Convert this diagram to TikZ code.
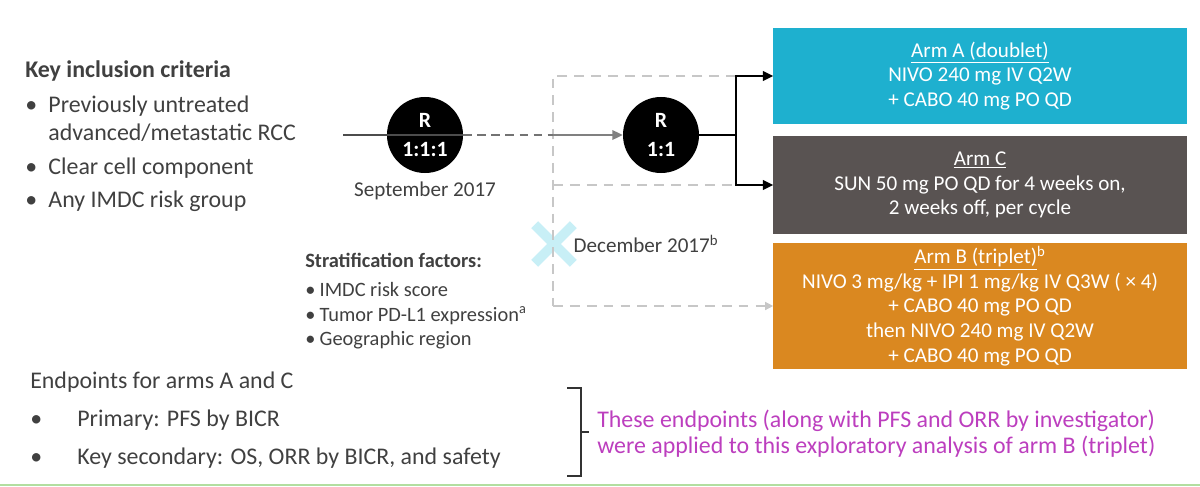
\documentclass[tikz,border=0pt]{standalone}
\usepackage{fontspec}
\setmainfont{Carlito}
\usepackage{xcolor}
\usetikzlibrary{arrows.meta,positioning,shapes.misc}
\definecolor{armcyan}{RGB}{30,176,207}
\definecolor{armgray}{RGB}{89,83,82}
\definecolor{armorange}{RGB}{218,136,32}
\definecolor{txtgray}{RGB}{64,64,64}
\definecolor{notemag}{RGB}{188,62,190}
\definecolor{xcyan}{RGB}{200,239,246}
\definecolor{rulegreen}{RGB}{178,222,160}

\begin{document}
\begin{tikzpicture}[x=0.025cm, y=-0.025cm,
  txt/.style={text=txtgray, align=left, inner sep=0pt},
  rnd/.style={circle, fill=black, text=white, minimum size=1.9cm, inner sep=0pt, align=center, font=\fontsize{15.5}{21}\selectfont\bfseries},
  arm/.style={minimum width=10.325cm, inner sep=0pt, align=center, text=white, font=\fontsize{15}{17.5}\selectfont},
  arr/.style={-{Triangle[length=2.6mm,width=2.4mm]}, line width=1.5pt},
  garr/.style={-{Triangle[length=2.6mm,width=2.4mm]}, line width=1.3pt, black!50},
  dashln/.style={draw=black!22, dashed, dash pattern=on 7pt off 5pt, line width=1pt},
  bracket/.style={draw=black!80, line width=1.1pt}
]
  \useasboundingbox (0,0) rectangle (1200,486);

  % inclusion criteria
  \node[txt, anchor=north west, font=\fontsize{17}{20}\selectfont] (incl) at (25,60) {\textbf{Key inclusion criteria}\\[5pt]
    \begin{tabular}[t]{@{}l@{\hspace{8pt}}l@{}}
      \textbullet & Previously untreated\\
                  & advanced/metastatic RCC\\[4pt]
      \textbullet & Clear cell component\\[4pt]
      \textbullet & Any IMDC risk group
    \end{tabular}};

  % randomisations
  \coordinate (in) at (343,135);
  \coordinate (split) at (553,135);
  \coordinate (fork) at (736,135);
  \node[rnd] (rand1) at (425,135) {R\\1:1:1};
  \node[rnd] (rand2) at (661,135) {R\\1:1};
  \node[txt, below=0.2cm of rand1, font=\fontsize{15}{17}\selectfont] (sept) {September 2017};

  % arms
  \node[arm, fill=armcyan, minimum height=2.4cm] (armA) at (980,76) {\underline{Arm A (doublet)}\\NIVO 240 mg IV Q2W\\+ CABO 40 mg PO QD};
  \node[arm, fill=armgray, minimum height=2.43cm] (armC) at (980,185) {\underline{Arm C}\\SUN 50 mg PO QD for 4 weeks on,\\2 weeks off, per cycle};
  \node[arm, fill=armorange, minimum height=3.15cm] (armB) at (980,306) {\underline{Arm B (triplet)}\textsuperscript{b}\\NIVO 3 mg/kg + IPI 1 mg/kg IV Q3W ( × 4)\\+ CABO 40 mg PO QD\\then NIVO 240 mg IV Q2W\\+ CABO 40 mg PO QD};

  % december closure of arm B
  \node[cross out, draw=xcyan, line width=7pt, minimum size=0.72cm] (xmk) at (554,244) {};
  \node[txt, right=0.0cm of xmk, font=\fontsize{15}{17}\selectfont] (dec) {December 2017\textsuperscript{b}};

  \draw[dashln] (fork |- armA.west) -| (split |- armB.west);
  \draw[dashln, -{Triangle[length=2mm,width=2mm]}] (split |- armB.west) -- (armB.west);
  \draw[dashln] (split |- armC.west) -- (fork |- armC.west);

  \draw[black!70, line width=1.5pt] (in) -- (rand1.east);
  \draw[black!55, line width=1.5pt, dashed, dash pattern=on 6pt off 4pt] (rand1.east) -- (split);
  \draw[garr] (split) -- (rand2);
  \draw[line width=1.5pt] (rand2) -- (fork);
  \draw[arr] (fork) |- (armA.west);
  \draw[arr] (fork) |- (armC.west);

  % stratification
  \node[txt, anchor=north west, font=\fontsize{14.5}{17.5}\selectfont] (strat) at (305,253) {\textbf{Stratification factors:}\\[3pt]
    \begin{tabular}[t]{@{}l@{\hspace{3pt}}l@{}}
      \textbullet & IMDC risk score\\
      \textbullet & Tumor PD-L1 expression\textsuperscript{a}\\
      \textbullet & Geographic region
    \end{tabular}};

  % endpoints
  \node[txt, anchor=north west, font=\fontsize{17}{27}\selectfont] (endpts) at (30,372) {Endpoints for arms A and C\\
    \begin{tabular}[t]{@{}l@{\hspace{25pt}}l@{}}
      \textbullet & Primary: PFS by BICR\\
      \textbullet & Key secondary: OS, ORR by BICR, and safety
    \end{tabular}};
  \draw[bracket] (567,388) -- (581,388) -- (581,476) -- (567,476) (581,432) -- (589,432);
  \node[txt, text=notemag, anchor=west, font=\fontsize{17}{18.5}\selectfont] (note) at (597,434) {These endpoints (along with PFS and ORR by investigator)\\were applied to this exploratory analysis of arm B (triplet)};

  \draw[rulegreen, line width=2pt] (0,485) -- (1200,485);
\end{tikzpicture}
\end{document}
